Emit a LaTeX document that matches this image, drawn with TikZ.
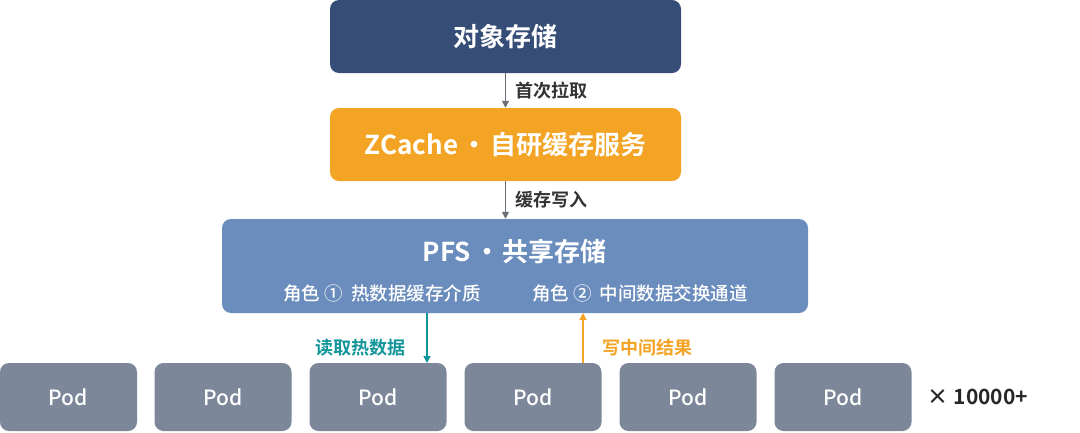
\documentclass[tikz,border=0pt]{standalone}
\usepackage{fontspec}
\setmainfont{Noto Sans CJK SC}
\newfontfamily\cjkb{Noto Sans CJK SC Bold}
\newfontfamily\cjkm{Noto Sans CJK SC Medium}
\usetikzlibrary{arrows.meta}
\definecolor{navy}{HTML}{364D77}
\definecolor{orng}{HTML}{F3A425}
\definecolor{pfsblue}{HTML}{6B8DBD}
\definecolor{podgray}{HTML}{7C8799}
\definecolor{teal2}{HTML}{11959A}
\definecolor{arrgray}{HTML}{6A6F78}
\begin{document}
\begin{tikzpicture}[x=1pt,y=-1pt,
  box/.style={rounded corners=9pt,inner sep=0pt},
  podbox/.style={box,fill=podgray,minimum width=137pt,minimum height=68pt,text=white,font=\cjkm\fontsize{21}{23}\selectfont},
  title/.style={text=white,font=\cjkb\fontsize{26}{28}\selectfont},
  lbl/.style={font=\cjkb\fontsize{18}{20}\selectfont},
  arr/.style={-{Triangle[length=7pt,width=7pt]},line width=1.6pt}]
\useasboundingbox (0,0) rectangle (1080,432);
\node[box,fill=navy,minimum width=351pt,minimum height=73pt,title] (obj) at (505.5,36.5) {对象存储};
\node[box,fill=orng,minimum width=351pt,minimum height=73pt,title] (zc) at (505.5,144.5) {ZCache{\kern3pt}·{\kern3pt}自研缓存服务};
\node[box,fill=pfsblue,minimum width=586pt,minimum height=94pt] (pfs) at (515,266) {};
\node[title] (pfst) at (515,252) {PFS{\kern3pt}·{\kern3pt}共享存储};
\node[text=white,font=\cjkm\fontsize{18.5}{20}\selectfont] (r1) at (382,293) {角色 ①\ \ 热数据缓存介质};
\node[text=white,font=\cjkm\fontsize{18.5}{20}\selectfont] (r2) at (640,293) {角色 ②\ \ 中间数据交换通道};
\foreach \i/\x in {1/68.5,2/223,3/378,4/533,5/688,6/843}{
  \node[podbox] (p\i) at (\x,397) {Pod};
}
\node[font=\cjkb\fontsize{21}{23}\selectfont,text=black!85] (mult) at (978,397) {× 10000+};
\draw[arr,arrgray] (obj.south) -- (zc.north) node[midway,right=6pt,lbl,text=black!80] {首次拉取};
\draw[arr,arrgray] (zc.south) -- (pfs.north-|zc.south) node[midway,right=6pt,lbl,text=black!80] {缓存写入};
\coordinate (ra) at (427,313);
\coordinate (rb) at (427,363);
\draw[arr,teal2] (ra) -- (rb);
\node[lbl,text=teal2] (rl) at (360,348) {读取热数据};
\coordinate (wa) at (583,363);
\coordinate (wb) at (583,313);
\draw[arr,orng] (wa) -- (wb);
\node[lbl,text=orng] (wl) at (647,348) {写中间结果};
\end{tikzpicture}
\end{document}
